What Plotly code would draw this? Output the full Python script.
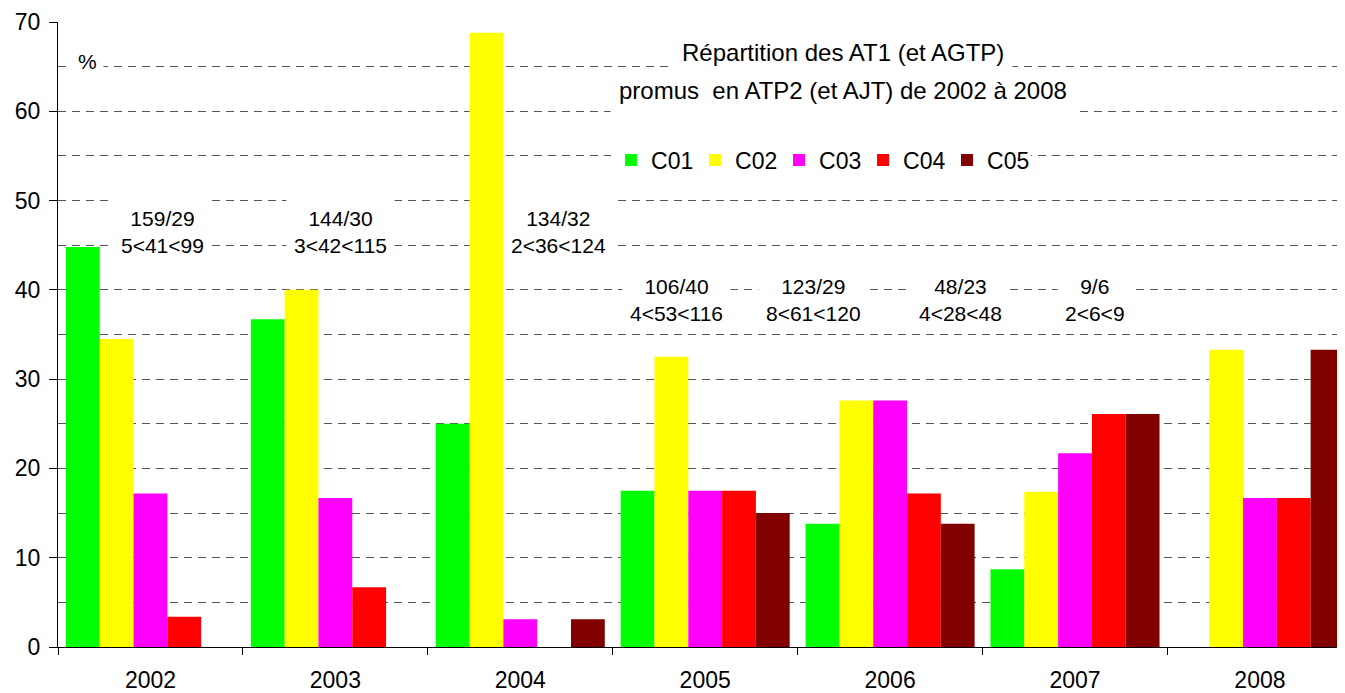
import plotly.graph_objects as go

years = ["2002", "2003", "2004", "2005", "2006", "2007", "2008"]
series_names = ["C01", "C02", "C03", "C04", "C05"]
c01 = [44.8, 36.7, 25.0, 17.5, 13.8, 8.7, 0.0]
c02 = [34.5, 40.0, 68.8, 32.5, 27.6, 17.4, 33.3]
c03 = [17.2, 16.7, 3.1, 17.5, 27.6, 21.7, 16.7]
c04 = [3.4, 6.7, 0.0, 17.5, 17.2, 26.1, 16.7]
c05 = [0.0, 0.0, 3.1, 15.0, 13.8, 26.1, 33.3]
ratio_labels = ["159/29", "144/30", "134/32", "106/40", "123/29", "48/23", "9/6"]
range_labels = ["5<41<99", "3<42<115", "2<36<124", "4<53<116", "8<61<120", "4<28<48", "2<6<9"]
y_ticks = [0, 10, 20, 30, 40, 50, 60, 70]
title_lines = ["Répartition des AT1 (et AGTP)", "promus  en ATP2 (et AJT) de 2002 à 2008"]
unit_label = "%"

# layout-only positions (category offsets for the text boxes)
label_x = [0.066, 1.028, 2.204, 2.844, 3.585, 4.38, 5.11]
label_y = [46.5, 46.5, 46.5, 38.9, 38.9, 38.9, 38.9]

colors = ["#00FF00", "#FFFF00", "#FF00FF", "#FF0000", "#800000"]
FONT = "Liberation Sans, Arial, sans-serif"

fig = go.Figure()
for name, vals, col in zip(series_names, [c01, c02, c03, c04, c05], colors):
    fig.add_trace(go.Bar(x=years, y=vals, name=name, marker=dict(color=col, line=dict(width=0))))

annotations = []
for xv, yv, r1, r2 in zip(label_x, label_y, ratio_labels, range_labels):
    txt = r1 + "<br>" + r2.replace("<", "&lt;")
    annotations.append(dict(x=xv, y=yv, xref="x", yref="y", text=txt, showarrow=False,
                            xanchor="center", yanchor="middle",
                            font=dict(family=FONT, size=21, color="black"),
                            bgcolor="white", borderpad=7, align="center"))
annotations.append(dict(x=0.0233, y=0.936, xref="paper", yref="paper", text=unit_label,
                        showarrow=False, xanchor="center", yanchor="middle",
                        font=dict(family=FONT, size=21, color="black"),
                        bgcolor="white", borderpad=6))
for ly, line in zip([0.952, 0.891], title_lines):
    annotations.append(dict(x=0.61, y=ly, xref="paper", yref="paper", text=line,
                            showarrow=False, xanchor="center", yanchor="middle",
                            font=dict(family=FONT, size=24, color="black"),
                            bgcolor="white", borderpad=8))

fig.update_layout(
    width=1337, height=685,
    margin=dict(l=50, r=0, t=14, b=46),
    paper_bgcolor="white", plot_bgcolor="white",
    barmode="group", bargap=0.086, bargroupgap=0,
    font=dict(family=FONT, size=23, color="black"),
    showlegend=True,
    legend=dict(orientation="h", x=0.4297, y=0.779, xanchor="left", yanchor="middle",
                bgcolor="white", font=dict(family=FONT, size=23, color="black"),
                entrywidth=39, entrywidthmode="pixels", itemclick=False),
    annotations=annotations,
)
fig.update_xaxes(
    type="category", range=[-0.5, 6.46], showline=True, linecolor="black", linewidth=1,
    ticks="outside", tickson="boundaries", ticklen=7, tickcolor="black",
    showgrid=False, zeroline=False, ticklabelstandoff=12,
    tickfont=dict(family=FONT, size=23, color="black"),
)
fig.update_yaxes(
    range=[0, 70], tickvals=y_ticks, showline=True, linecolor="black", linewidth=1,
    ticks="outside", ticklen=8, tickcolor="black",
    showgrid=True, gridcolor="#555555", griddash="8px,6px", gridwidth=1,
    minor=dict(dtick=5, showgrid=True, gridcolor="#555555", griddash="8px,6px", gridwidth=1, ticks=""),
    zeroline=False, ticklabelstandoff=4,
    tickfont=dict(family=FONT, size=23, color="black"),
)

fig.write_html("out.html")
